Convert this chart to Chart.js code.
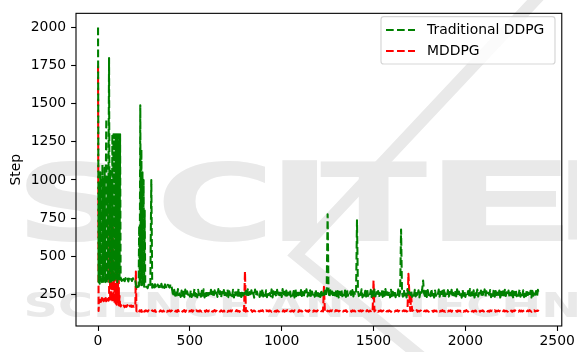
<!DOCTYPE html>
<html>
<head>
<meta charset="utf-8">
<script src="https://cdn.jsdelivr.net/npm/chart.js@4.4.1/dist/chart.umd.min.js"></script>
<style>
  html, body { margin: 0; padding: 0; background: #ffffff; }
  canvas { display: block; }
</style>
</head>
<body>
<canvas id="c" width="577" height="352"></canvas>
<script>
// ---------------- data ----------------
const seriesLabels = ['Traditional DDPG', 'MDDPG'];
const yAxisTitle = 'Step';
const xTicks = [0, 500, 1000, 1500, 2000, 2500];
const yTicks = [250, 500, 750, 1000, 1250, 1500, 1750, 2000];

const episodes = [
  0,3,6,9,12,15,18,21,24,27,30,33,36,39,42,45,48,51,54,57,
  60,63,66,69,72,75,78,81,84,87,90,93,96,99,102,105,108,111,114,117,
  120,123,126,129,132,135,
  140,145,150,155,160,165,170,175,180,185,190,195,200,
  203,206,209,212,215,218,221,224,227,230,233,236,239,242,245,248,251,254,257,260,
  265,270,275,280,285,290,295,300,305,310,315,320,325,330,335,340,345,350,355,360,
  365,370,375,380,385,390,395,400,
  405,410,415,420,425,430,435,440,445,450,455,460,465,470,475,480,485,490,495,500,
  505,510,515,520,525,530,535,540,545,550,555,560,565,570,575,580,585,590,595,600,
  605,610,615,620,625,630,635,640,645,650,655,660,665,670,675,680,685,690,695,700,
  705,710,715,720,725,730,735,740,745,750,755,760,765,770,775,780,785,790,795,800,
  805,810,815,820,825,830,835,840,845,850,855,860,865,870,875,880,885,890,895,900,
  905,910,915,920,925,930,935,940,945,950,955,960,965,970,975,980,985,990,995,1000,
  1005,1010,1015,1020,1025,1030,1035,1040,1045,1050,1055,1060,1065,1070,1075,1080,1085,1090,1095,1100,
  1105,1110,1115,1120,1125,1130,1135,1140,1145,1150,1155,1160,1165,1170,1175,1180,1185,1190,1195,1200,
  1205,1210,1215,1220,1225,1230,1235,1240,1245,1250,1255,1260,1265,1270,1275,1280,1285,1290,1295,1300,
  1305,1310,1315,1320,1325,1330,1335,1340,1345,1350,1355,1360,1365,1370,1375,1380,1385,1390,1395,1400,
  1405,1410,1415,1420,1425,1430,1435,1440,1445,1450,1455,1460,1465,1470,1475,1480,1485,1490,1495,1500,
  1505,1510,1515,1520,1525,1530,1535,1540,1545,1550,1555,1560,1565,1570,1575,1580,1585,1590,1595,1600,
  1605,1610,1615,1620,1625,1630,1635,1640,1645,1650,1655,1660,1665,1670,1675,1680,1685,1690,1695,1700,
  1705,1710,1715,1720,1725,1730,1735,1740,1745,1750,1755,1760,1765,1770,1775,1780,1785,1790,1795,1800,
  1805,1810,1815,1820,1825,1830,1835,1840,1845,1850,1855,1860,1865,1870,1875,1880,1885,1890,1895,1900,
  1905,1910,1915,1920,1925,1930,1935,1940,1945,1950,1955,1960,1965,1970,1975,1980,1985,1990,1995,2000,
  2005,2010,2015,2020,2025,2030,2035,2040,2045,2050,2055,2060,2065,2070,2075,2080,2085,2090,2095,2100,
  2105,2110,2115,2120,2125,2130,2135,2140,2145,2150,2155,2160,2165,2170,2175,2180,2185,2190,2195,2200,
  2205,2210,2215,2220,2225,2230,2235,2240,2245,2250,2255,2260,2265,2270,2275,2280,2285,2290,2295,2300,
  2305,2310,2315,2320,2325,2330,2335,2340,2345,2350,2355,2360,2365,2370,2375,2380,2385,2390,2395,2400
];

const ddpgSteps = [
  2000,330,950,320,1050,340,980,330,1100,320,
  1000,340,1080,330,960,1400,320,1020,340,990,
  1800,330,1060,320,1000,340,1300,340,1300,330,
  1300,350,1300,340,1300,330,1300,350,1300,340,
  1300,345,352,338,356,342,
  350,336,356,340,352,334,358,342,350,337,355,341,348,
  345,305,295,310,298,305,300,700,310,1490,320,1200,310,1050,305,1000,300,800,310,300,
  300,290,312,296,318,1000,293,309,287,316,300,291,314,297,306,289,319,295,310,292,
  315,298,288,313,301,294,317,305,
  268,236,279,241,262,229,284,245,256,233,274,240,266,231,281,238,270,247,259,235,
  277,232,264,243,285,237,268,230,279,246,261,234,273,241,283,229,266,239,275,244,
  258,236,280,242,267,230,276,245,262,233,284,239,270,228,265,247,278,235,260,241,
  282,231,269,244,257,237,279,229,272,246,263,234,286,240,267,232,275,243,259,238,
  271,230,283,245,264,236,277,241,260,228,281,239,268,247,256,233,274,242,285,235,
  263,240,276,231,269,246,258,237,282,229,270,243,265,234,279,238,261,245,273,232,
  284,236,267,242,275,230,262,247,280,235,257,241,272,229,286,238,266,244,259,233,
  278,239,264,231,271,245,283,236,260,242,276,228,268,247,262,234,281,240,270,237,
  265,232,279,243,257,236,274,241,285,775,263,230,277,246,268,235,259,242,282,238,
  272,229,266,245,280,237,261,243,275,233,284,240,258,247,270,231,278,236,264,244,
  260,735,276,238,267,246,283,230,262,241,273,235,286,239,256,244,279,232,269,241,
  281,236,264,243,272,229,259,247,277,233,268,240,284,237,263,245,271,230,280,238,
  266,242,275,231,258,246,282,237,269,675,261,234,279,243,270,229,285,238,264,245,
  273,233,260,241,280,236,267,247,276,230,263,244,283,340,258,239,271,232,278,246,
  262,237,284,243,269,229,275,240,257,246,281,234,266,241,273,231,286,238,260,244,
  277,235,265,247,280,230,259,242,274,236,283,239,268,245,262,228,279,241,270,233,
  257,244,272,232,285,240,263,237,276,229,268,246,281,235,260,243,274,230,266,239,
  282,236,269,242,258,247,278,231,264,240,286,234,271,245,261,238,275,229,267,243,
  270,232,280,239,263,246,274,235,259,242,284,230,266,244,277,237,262,241,283,234,
  265,243,276,231,269,238,281,245,258,236,273,229,285,240,264,247,271,233,279,252
];

const mddpgSteps = [
  1750,140,215,205,222,200,212,226,196,215,
  205,220,198,212,225,204,216,200,221,208,
  215,800,200,600,205,450,195,700,200,380,
  188,650,190,320,182,560,186,680,176,240,
  175,170,178,168,175,172,
  176,166,174,168,179,165,175,170,177,167,174,169,175,
  172,400,140,138,144,136,142,139,145,137,141,146,135,143,138,144,136,142,139,145,
  141,137,145,139,143,136,144,140,138,146,135,142,139,144,137,145,140,136,143,138,
  146,141,135,142,139,144,137,143,
  141,136,145,138,143,135,147,139,142,137,144,136,141,146,135,143,138,145,137,142,
  139,146,136,143,140,134,145,138,141,137,145,139,136,144,138,142,135,146,140,137,
  143,137,145,139,136,141,147,138,142,135,144,139,137,145,140,136,143,138,146,141,
  135,142,139,144,137,145,140,136,143,139,146,138,141,135,144,139,137,145,140,400,
  136,143,139,145,137,141,146,135,140,144,138,142,136,145,139,137,143,140,146,138,
  142,136,145,139,143,137,144,140,135,141,146,138,142,136,145,139,137,143,140,144,
  138,145,136,142,140,146,135,143,139,137,144,141,136,145,138,142,140,135,146,139,
  143,137,141,145,136,144,139,142,135,146,140,138,143,136,145,139,141,137,144,140,
  136,145,139,142,138,300,141,146,135,143,140,137,144,139,145,136,142,138,146,141,
  144,138,142,136,145,139,137,143,140,146,135,141,144,138,142,136,145,139,143,137,
  140,146,136,142,139,145,137,143,141,135,144,138,146,140,136,143,139,145,137,340,
  138,144,140,146,136,142,139,145,137,141,143,136,145,138,141,137,144,140,135,142,
  145,139,136,143,140,146,137,142,138,144,135,141,145,139,143,137,140,385,255,140,
  250,140,145,137,143,139,146,136,142,138,144,141,135,145,139,143,137,144,140,136,
  142,146,138,141,135,144,139,143,137,145,140,136,142,139,146,138,141,135,144,140,
  137,143,139,145,136,142,140,146,138,141,135,144,139,143,137,145,140,136,142,138,
  146,140,136,143,139,145,138,142,135,141,144,137,143,139,146,136,142,140,145,137,
  141,135,144,138,142,136,145,139,143,137,140,146,136,142,139,144,138,141,135,143,
  139,145,137,142,140,136,144,138,146,141,135,143,139,145,137,142,140,136,144,138,
  143,137,141,145,136,142,139,144,138,146,140,135,143,139,145,137,142,140,144,139
];

const seriesColors = ['#008000', '#ff0000'];

if (episodes.length !== ddpgSteps.length || episodes.length !== mddpgSteps.length) {
  console.error('length mismatch', episodes.length, ddpgSteps.length, mddpgSteps.length);
}

// ---------------- styling helpers ----------------
const FONT = '"DejaVu Sans", "Liberation Sans", sans-serif';
const FS = 13.9;
const DASH = [7.7, 3.3];
const LW = 2.08;
const WM = 'rgb(233,233,233)';

const watermarkPlugin = {
  id: 'watermark',
  beforeDraw(chart) {
    const c = chart.ctx;
    c.save();
    c.fillStyle = WM;
    c.strokeStyle = WM;
    c.lineWidth = 12;
    c.lineCap = 'butt';
    c.beginPath();
    c.moveTo(540, -5);
    c.lineTo(296, 255);
    c.lineTo(425, 360);
    c.stroke();
    c.font = 'bold 100px ' + FONT;
    const big = [['S', 26, 121], ['C', 162, 265], ['I', 282, 317], ['T', 320, 427], ['E', 442, 563], ['P', 568, 680]];
    big.forEach(([ch, x0, x1]) => {
      const m = c.measureText(ch);
      const w = m.actualBoundingBoxLeft + m.actualBoundingBoxRight;
      const h = m.actualBoundingBoxAscent + m.actualBoundingBoxDescent;
      c.save();
      c.translate(x0, 241);
      c.scale((x1 - x0) / w, 81 / h);
      c.fillText(ch, m.actualBoundingBoxLeft, -m.actualBoundingBoxDescent);
      c.restore();
    });
    c.font = 'bold 40px ' + FONT;
    const full = 'SCIENCE AND TECHNOLOGY PUBLICATIONS';
    const part = c.measureText('SCIENCE AND TECHN');
    const mf = c.measureText(full);
    const pw = part.actualBoundingBoxLeft + part.actualBoundingBoxRight;
    const ph = mf.actualBoundingBoxAscent + mf.actualBoundingBoxDescent;
    c.save();
    c.translate(26, 318);
    c.scale((577 - 26) / pw, 27 / ph);
    c.fillText(full, part.actualBoundingBoxLeft, -mf.actualBoundingBoxDescent);
    c.restore();
    c.restore();
  }
};

const framePlugin = {
  id: 'frame',
  afterDatasetsDraw(chart) {
    const a = chart.chartArea, c = chart.ctx;
    c.save();
    c.strokeStyle = '#000';
    c.lineWidth = 1.1;
    c.strokeRect(a.left, a.top, a.right - a.left, a.bottom - a.top);
    c.restore();
  }
};

const legendPlugin = {
  id: 'mplLegend',
  afterDraw(chart) {
    const c = chart.ctx;
    const x = 381, y = 16.7, w = 174, h = 47.3, r = 2.8;
    c.save();
    c.beginPath();
    c.moveTo(x + r, y);
    c.arcTo(x + w, y, x + w, y + h, r);
    c.arcTo(x + w, y + h, x, y + h, r);
    c.arcTo(x, y + h, x, y, r);
    c.arcTo(x, y, x + w, y, r);
    c.closePath();
    c.fillStyle = 'rgba(255,255,255,0.8)';
    c.fill();
    c.strokeStyle = 'rgba(204,204,204,0.8)';
    c.lineWidth = 1.2;
    c.stroke();
    const rows = [30, 51];
    chart.data.datasets.forEach((ds, i) => {
      const yy = rows[i];
      c.beginPath();
      c.setLineDash(DASH);
      c.lineWidth = LW;
      c.strokeStyle = ds.borderColor;
      c.moveTo(386, yy);
      c.lineTo(415, yy);
      c.stroke();
      c.setLineDash([]);
      c.fillStyle = '#000';
      c.font = FS + 'px ' + FONT;
      c.textBaseline = 'middle';
      c.textAlign = 'left';
      c.fillText(ds.label, 427, yy + 0.5);
    });
    c.restore();
  }
};

const makeDataset = (label, values, color) => ({
  label,
  data: episodes.map((ep, i) => ({ x: ep, y: values[i] })),
  borderColor: color,
  backgroundColor: color,
  borderWidth: LW,
  borderDash: DASH,
  borderJoinStyle: 'round',
  borderCapStyle: 'butt',
  pointRadius: 0,
  tension: 0,
  fill: false
});

new Chart(document.getElementById('c').getContext('2d'), {
  type: 'line',
  data: {
    datasets: [
      makeDataset(seriesLabels[0], ddpgSteps, seriesColors[0]),
      makeDataset(seriesLabels[1], mddpgSteps, seriesColors[1])
    ]
  },
  options: {
    responsive: false,
    animation: false,
    devicePixelRatio: 1,
    layout: { padding: { left: 0, top: 9.5, right: 15, bottom: 0 } },
    plugins: { legend: { display: false }, tooltip: { enabled: false } },
    scales: {
      x: {
        type: 'linear',
        min: -120,
        max: 2525,
        afterBuildTicks: s => { s.ticks = xTicks.map(v => ({ value: v })); },
        afterFit: s => { s.height = 26; },
        grid: { drawOnChartArea: false, drawTicks: true, tickLength: 4.9, tickWidth: 1.1, tickColor: '#000' },
        border: { display: false },
        ticks: { color: '#000', font: { family: FONT, size: FS }, padding: 2, maxRotation: 0, autoSkip: false, callback: v => String(v) }
      },
      y: {
        type: 'linear',
        min: 42,
        max: 2093,
        afterBuildTicks: s => { s.ticks = yTicks.map(v => ({ value: v })); },
        afterFit: s => { s.width = 76; },
        grid: { drawOnChartArea: false, drawTicks: true, tickLength: 4.9, tickWidth: 1.1, tickColor: '#000' },
        border: { display: false },
        ticks: { color: '#000', font: { family: FONT, size: FS }, padding: 5, autoSkip: false, callback: v => String(v) },
        title: { display: true, text: yAxisTitle, color: '#000', font: { family: FONT, size: FS }, padding: { top: 8, bottom: 0 } }
      }
    }
  },
  plugins: [watermarkPlugin, framePlugin, legendPlugin]
});
</script>
</body>
</html>
